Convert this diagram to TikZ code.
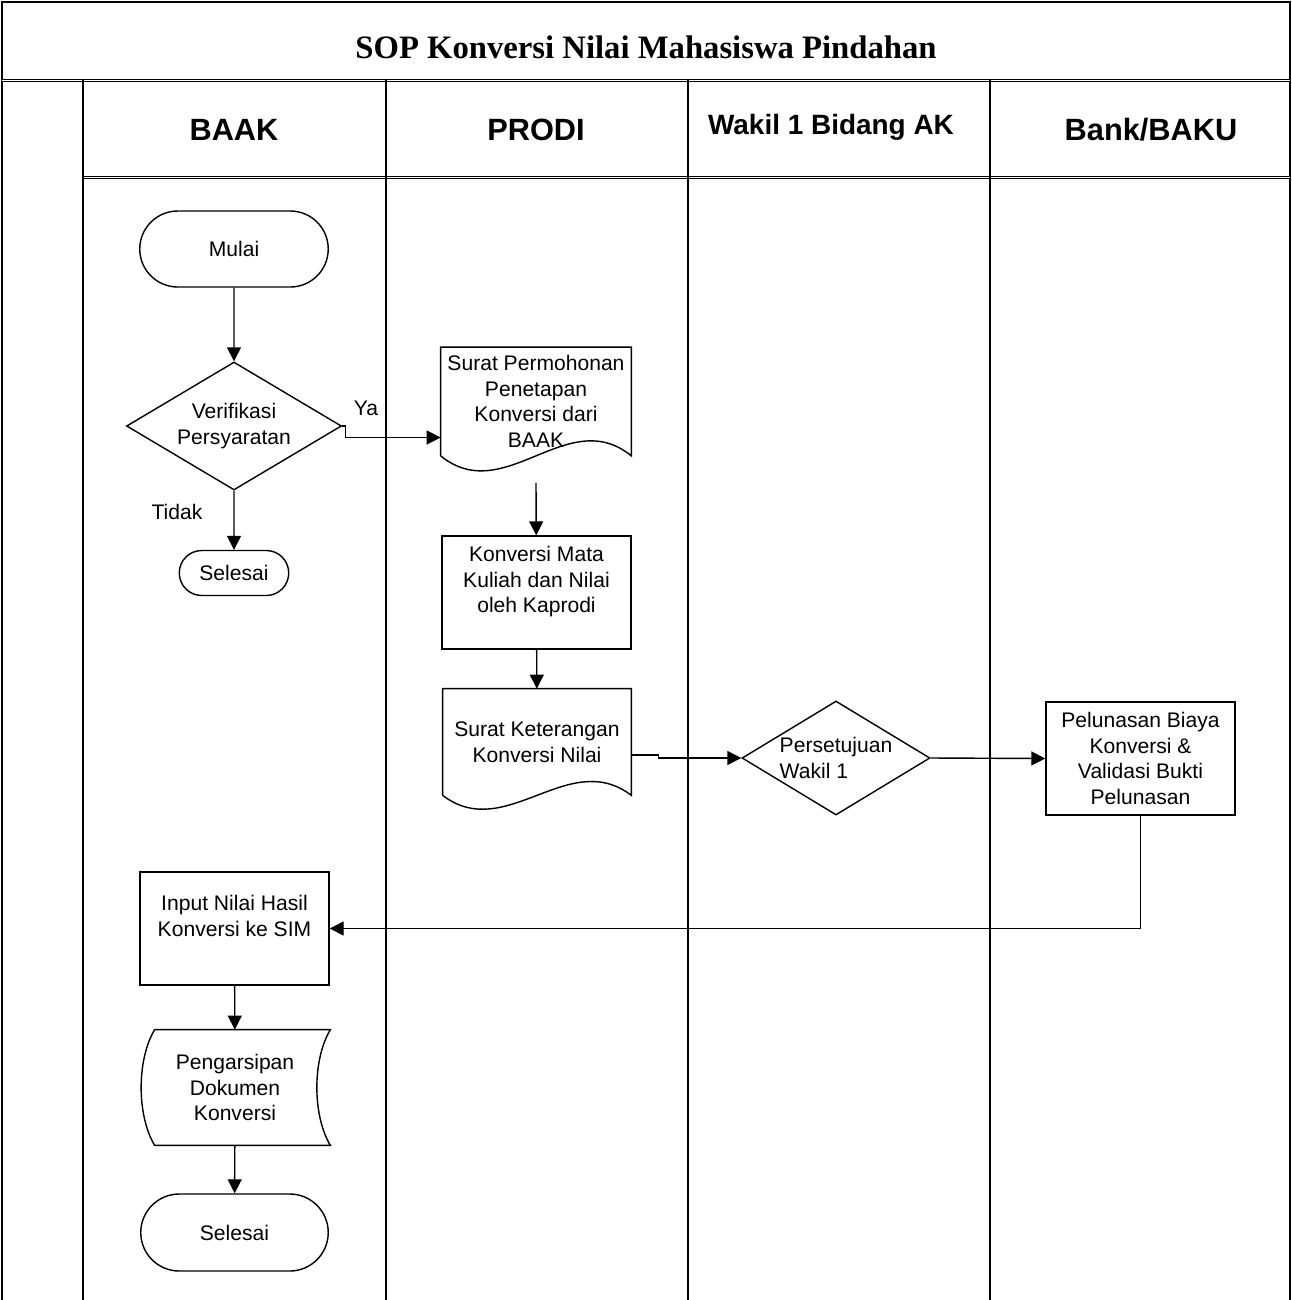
\documentclass[tikz,border=0pt]{standalone}
\usepackage{fontspec}
\setmainfont{Liberation Sans}
\newfontfamily\titlefont{Liberation Serif}
\usetikzlibrary{shapes.geometric,shapes.misc,arrows.meta,calc}

\begin{document}
\begin{tikzpicture}[
    x=0.2mm, y=-0.2mm,
    every node/.style={font=\fontsize{12}{14.5}\selectfont, align=center, inner sep=1pt},
    line/.style={line width=0.8pt},
    sep/.style={line width=0.6pt, double, double distance=0.5pt},
    arr/.style={line width=0.8pt, -{Triangle[length=2.8mm, width=2.8mm]}},
    term/.style={rounded rectangle, draw, line width=0.8pt, minimum width=38.4mm, minimum height=15.2mm},
    proc/.style={rectangle, draw, line width=0.8pt, minimum width=37.8mm, minimum height=22.6mm},
    decide/.style={diamond, draw, line width=0.8pt, aspect=1.65, inner sep=0pt},
    doc/.style={rectangle, minimum width=38mm, minimum height=21.6mm},
    lane/.style={font=\fontsize{17.5}{20}\selectfont\bfseries}
  ]
  \useasboundingbox (0,0) rectangle (1292,1300);

  % Frame and swimlanes
  \draw[line] (2,1300) -- (2,2) -- (1290,2) -- (1290,1300);
  \draw[sep] (2,80) -- (1290,80);
  \draw[sep] (83,177) -- (1290,177);
  \foreach \x in {83,386,688,990}
    \draw[line] (\x,80) -- (\x,1300);

  \node[font=\titlefont\fontsize{18.6}{22}\selectfont\bfseries] (title) at (646,47) {SOP Konversi Nilai Mahasiswa Pindahan};
  \node[lane] (baak) at (234,130) {BAAK};
  \node[lane] (prodi) at (536,130) {PRODI};
  \node[lane, font=\fontsize{15.9}{19}\selectfont\bfseries] (wakil) at (831,127) {Wakil 1 Bidang AK};
  \node[lane] (bank) at (1151,130) {Bank/BAKU};

  % BAAK: start and check
  \node[term] (mulai) at (234,249) {Mulai};
  \node[decide, minimum width=43mm, minimum height=25.6mm] (verif) at (234,426) {Verifikasi\\Persyaratan};
  \node[term, minimum width=22.6mm, minimum height=9mm] (stop1) at (234,573) {Selesai};
  \node (tidak) at (177,512) {Tidak};
  \node (ya) at (366,408) {Ya};

  % PRODI
  \node[doc] (surat1) at (536,401.5) {Surat Permohonan\\Penetapan\\Konversi dari\\BAAK};
  \node[proc] (konv) at (536.5,592.5) {Konversi Mata\\Kuliah dan Nilai\\oleh Kaprodi\\ \mbox{}};
  \node[doc, minimum width=37.6mm, minimum height=21.2mm] (surat2) at (537,742) {Surat Keterangan\\Konversi Nilai};

  % Wakil 1 and Bank/BAKU
  \node[decide, align=left, minimum width=37.6mm, minimum height=22.8mm] (setuju) at (836,758) {Persetujuan\\Wakil 1};
  \node[proc] (lunas) at (1140.5,758.5) {Pelunasan Biaya\\Konversi \&\\Validasi Bukti\\Pelunasan};

  % BAAK: finish
  \node[proc] (input) at (234.5,928.5) {Input Nilai Hasil\\Konversi ke SIM\\ \mbox{}};
  \node[rectangle, minimum width=38mm, minimum height=23mm] (arsip) at (235,1087.5) {Pengarsipan\\Dokumen\\Konversi};
  \node[term, minimum width=38.2mm, minimum height=15.4mm] (stop2) at (234.5,1232.5) {Selesai};

  % Outlines of document and stored data
  \draw[line] (surat1.south west) -- (surat1.north west) -- (surat1.north east) -- (surat1.south east)
    .. controls +(-64,-52) and +(64,52) .. (surat1.south west);
  \draw[line] (surat2.south west) -- (surat2.north west) -- (surat2.north east) -- (surat2.south east)
    .. controls +(-63,-48) and +(63,48) .. (surat2.south west);
  \draw[line] ($(arsip.north west)+(15,0)$) -- (arsip.north east)
    .. controls +(-18,30) and +(-18,-30) .. (arsip.south east) -- ($(arsip.south west)+(15,0)$)
    .. controls +(-18,-30) and +(-18,30) .. cycle;

  % Arrows
  \draw[arr] (mulai) -- (verif);
  \draw[arr] (verif) -- (stop1);
  \draw[arr] (verif.east) -- ++(3,0) |- ($(surat1.west)+(0,36)$);
  \draw[arr] ($(surat1.south)+(0,27)$) -- (konv);
  \draw[arr] (konv) -- (surat2);
  \draw[arr] ($(surat2.east)+(0,13)$) -- ++(27,0) |- (setuju.west);
  \draw[arr] (setuju.east) -- (lunas.west);
  \draw[arr] (lunas.south) |- (input.east);
  \draw[arr] (input) -- (arsip);
  \draw[arr] (arsip) -- (stop2);
\end{tikzpicture}
\end{document}
